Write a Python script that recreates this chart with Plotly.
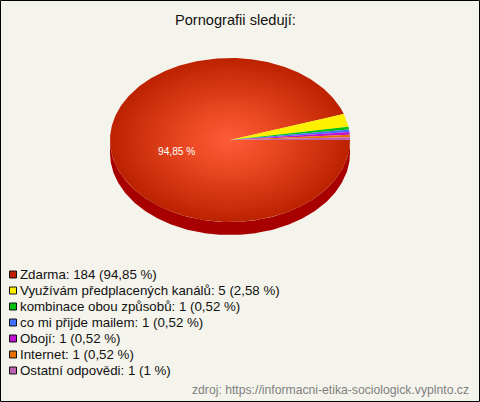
import numpy as np
import plotly.graph_objects as go

categories = ["Zdarma", "Využívám předplacených kanálů", "kombinace obou způsobů",
              "co mi přijde mailem", "Obojí", "Internet", "Ostatní odpovědi"]
counts = [184, 5, 1, 1, 1, 1, 1]
percent_labels = ["94,85 %", "2,58 %", "0,52 %", "0,52 %", "0,52 %", "0,52 %", "1 %"]
colors = ["#C02000", "#FFF000", "#00C010", "#4070FF", "#C010D0", "#E87000", "#C060B0"]
title_text = "Pornografii sledují:"
source_text = "zdroj: https://informacni-etika-sociologick.vyplnto.cz"

W, H = 480, 402
cx, cy, rx, ry, depth = 230, 140, 120, 82, 13
bg = "#F5F4EC"

fig = go.Figure()

# side of the pie
t = np.linspace(0, np.pi, 200)
sx = np.r_[cx + rx * np.cos(t), cx + rx * np.cos(t[::-1])]
sy = np.r_[cy + ry * np.sin(t), cy + depth + ry * np.sin(t[::-1])]
fig.add_trace(go.Scatter(x=sx, y=sy, mode="lines", fill="toself", fillcolor="#A80000",
                         line=dict(width=0), hoverinfo="skip", showlegend=False))

# top slices, clockwise on screen from the east
fracs = np.array(counts) / sum(counts)
edges = np.r_[0, np.cumsum(fracs)] * 2 * np.pi
for i, c in enumerate(colors):
    a = np.linspace(edges[i], edges[i + 1], max(4, int(400 * fracs[i])))
    px = np.r_[cx, cx + rx * np.cos(a), cx]
    py = np.r_[cy, cy + ry * np.sin(a), cy]
    kw = dict(fillcolor=c)
    if i == 0:
        kw = dict(fillgradient=dict(type="radial",
                                    colorscale=[[0, "#FF5C38"], [0.45, "#E4441E"], [1, "#BC2200"]]))
    fig.add_trace(go.Scatter(x=px, y=py, mode="lines", fill="toself", line=dict(width=0),
                             hoverinfo="skip", showlegend=False, **kw))

# legend swatches
row_y = [274 + 16 * i for i in range(len(categories))]
fig.add_trace(go.Scatter(x=[13] * len(categories), y=[y + 0.5 for y in row_y], mode="markers",
                         marker=dict(symbol="square", size=7, color=colors,
                                     line=dict(color="#111111", width=1)),
                         hoverinfo="skip", showlegend=False))

ann = [dict(x=235.5, y=20, text=title_text, xanchor="center", yanchor="middle",
            font=dict(size=14.6, color="#111111")),
       dict(x=155.5, y=151, text=percent_labels[0], xanchor="left", yanchor="middle",
            font=dict(size=10.2, color="#FFFFFF")),
       dict(x=471, y=390, text=source_text, xanchor="right", yanchor="middle",
            font=dict(size=12.2, color="#808080"))]
for name, n, p, y in zip(categories, counts, percent_labels, row_y):
    ann.append(dict(x=17.5, y=y, text=f"{name}: {n} ({p})", xanchor="left", yanchor="middle",
                    font=dict(size=13.3, color="#111111")))
for a in ann:
    a.update(xref="x", yref="y", showarrow=False, xshift=0)

fig.update_layout(
    width=W, height=H, margin=dict(l=0, r=0, t=0, b=0), autosize=False,
    paper_bgcolor=bg, plot_bgcolor=bg,
    font=dict(family="Liberation Sans, Arial, sans-serif"),
    xaxis=dict(range=[0, W], visible=False, fixedrange=True),
    yaxis=dict(range=[H, 0], visible=False, fixedrange=True),
    annotations=ann,
    shapes=[dict(type="rect", x0=0.5, y0=0.5, x1=W - 0.5, y1=H - 0.5, xref="x", yref="y",
                 line=dict(color="#000000", width=1), fillcolor="rgba(0,0,0,0)")],
)
fig.write_html("out.html", config=dict(displayModeBar=False),
               post_script="document.body.style.margin='0';document.body.style.overflow='hidden';")
